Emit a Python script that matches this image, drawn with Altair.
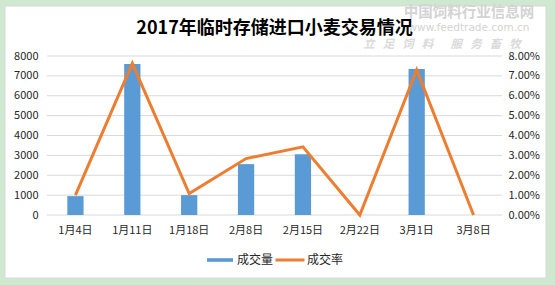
import altair as alt
import pandas as pd

# ---- data ----
dates = ["1月4日", "1月11日", "1月18日", "2月8日", "2月15日", "2月22日", "3月1日", "3月8日"]
volume = [950, 7600, 1000, 2560, 3060, 0, 7350, 0]          # 成交量
rate = [0.0100, 0.0763, 0.0108, 0.0284, 0.0343, 0.0, 0.0730, 0.0]  # 成交率
series_bar = "成交量"
series_line = "成交率"
title_text = "2017年临时存储进口小麦交易情况"
left_ticks = [0, 1000, 2000, 3000, 4000, 5000, 6000, 7000, 8000]
right_ticks = [0, 0.01, 0.02, 0.03, 0.04, 0.05, 0.06, 0.07, 0.08]
SP = "\u2002\u2009"
GAP = "\u3000\u2002"
watermark = ["中国饲料行业信息网", "www.feedtrade.com.cn",
             SP.join("立足饲料") + GAP + SP.join("服务畜牧")]

df = pd.DataFrame({"date": dates, "volume": volume, "rate": rate,
                   "s1": series_bar, "s2": series_line})

FONT = "Noto Sans CJK SC"
BLUE = "#5b9bd5"
ORANGE = "#ed7d31"
TXT = "#262626"
W, H = 455, 159

x_enc = alt.X("date:N", sort=dates,
              scale=alt.Scale(paddingInner=0.714, paddingOuter=0.357),
              axis=alt.Axis(title=None, labelAngle=0, domain=False, ticks=False,
                            grid=False, labelPadding=9, labelFontSize=11, zindex=1,
                            labelColor=TXT, labelFont=FONT))

# white chart area on the green sheet
frame = alt.Chart(pd.DataFrame({"k": [0]})).mark_rect(
    fill="white", stroke="#d9d9d9", strokeWidth=1
).encode(x=alt.value(-42), x2=alt.value(499), y=alt.value(-50), y2=alt.value(222))

wm_df = pd.DataFrame({"t": watermark})
wm1 = alt.Chart(wm_df).transform_filter(alt.datum.t == watermark[0]).mark_text(
    font=FONT, fontSize=14.5, fontWeight="bold", color="#d3d3d3"
).encode(text="t:N", x=alt.value(422), y=alt.value(-43))
wm2 = alt.Chart(wm_df).transform_filter(alt.datum.t == watermark[1]).mark_text(
    font="DejaVu Sans", fontSize=10.5, color="#d3d3d3"
).encode(text="t:N", x=alt.value(422), y=alt.value(-28))
wm3 = alt.Chart(wm_df).transform_filter(alt.datum.t == watermark[2]).mark_text(
    font=FONT, fontSize=11.5, fontWeight="bold", fontStyle="italic", color="#dadada"
).encode(text="t:N", x=alt.value(395), y=alt.value(-11))

grid = alt.Chart(pd.DataFrame({"v": left_ticks})).mark_rule(
    color="#d9d9d9", strokeWidth=1
).encode(y=alt.Y("v:Q", scale=alt.Scale(domain=[0, 8000], nice=False), axis=None))

bars = alt.Chart(df).mark_bar().encode(
    x=x_enc,
    y=alt.Y("volume:Q", scale=alt.Scale(domain=[0, 8000], nice=False),
            axis=alt.Axis(values=left_ticks, title=None, domain=False, ticks=False,
                          grid=False, labelPadding=9, zindex=1,
                          labelFontSize=11, labelColor=TXT, labelFont=FONT, format="d")),
    fill=alt.Fill("s1:N", scale=alt.Scale(domain=[series_bar], range=[BLUE]),
                  legend=alt.Legend(orient="none", legendX=160, legendY=191, title=None,
                                    padding=0, symbolSize=676,
                                    symbolType="M-1,-0.14H1V0.14H-1Z",
                                    symbolStrokeWidth=0, labelOffset=4,
                                    labelFont=FONT, labelFontSize=12, labelColor=TXT)),
)

line = alt.Chart(df).mark_line(strokeWidth=3, strokeJoin="miter").encode(
    x=x_enc,
    y=alt.Y("rate:Q", scale=alt.Scale(domain=[0, 0.08], nice=False),
            axis=alt.Axis(orient="right", values=right_ticks, title=None, domain=False,
                          ticks=False, grid=False, labelPadding=6, format=".2%", zindex=1,
                          labelFontSize=11, labelColor=TXT, labelFont=FONT)),
    stroke=alt.Stroke("s2:N", scale=alt.Scale(domain=[series_line], range=[ORANGE]),
                      legend=alt.Legend(orient="none", legendX=227, legendY=188, title=None,
                                        padding=0, symbolSize=841, symbolType="stroke",
                                        symbolStrokeWidth=3, labelOffset=1,
                                        labelFont=FONT, labelFontSize=12, labelColor=TXT)),
)

chart = alt.layer(frame, wm1, wm2, wm3, grid, bars, line).resolve_scale(
    y="independent", fill="independent", stroke="independent"
).properties(
    width=W, height=H,
    title=alt.TitleParams(title_text, font=FONT, fontSize=18, fontWeight="bold",
                          color="#000000", anchor="middle", offset=-33),
    background="#cfe8d0",
    padding={"left": 47, "top": 56, "right": 53, "bottom": 70},
    autosize=alt.AutoSizeParams(type="none"),
).configure_view(stroke=None)

chart.save("out.html", embed_options={"renderer": "svg", "actions": False})
